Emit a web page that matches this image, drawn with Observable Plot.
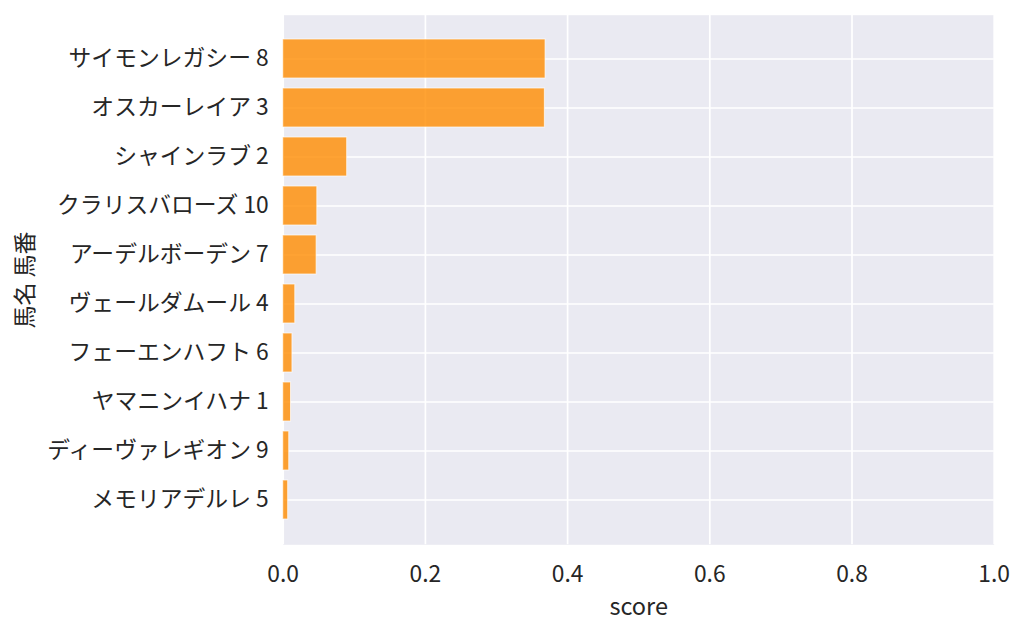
<!DOCTYPE html>
<html>
<head>
<meta charset="utf-8">
<script src="https://cdn.jsdelivr.net/npm/d3@7"></script>
<script src="https://cdn.jsdelivr.net/npm/@observablehq/plot@0.6"></script>
<style>
  html, body { margin: 0; padding: 0; background: #fff; }
  #chart svg { display: block; }
</style>
</head>
<body>
<div id="chart"></div>
<script>
const horseNames = [
  "サイモンレガシー 8",
  "オスカーレイア 3",
  "シャインラブ 2",
  "クラリスバローズ 10",
  "アーデルボーデン 7",
  "ヴェールダムール 4",
  "フェーエンハフト 6",
  "ヤマニンイハナ 1",
  "ディーヴァレギオン 9",
  "メモリアデルレ 5"
];
const scores = [0.369, 0.368, 0.090, 0.048, 0.047, 0.017, 0.013, 0.011, 0.0085, 0.007];
const xTicks = [0, 0.2, 0.4, 0.6, 0.8, 1.0];
const xLabel = "score";
const yLabel = "馬名 馬番";

const data = horseNames.map((name, i) => ({ name, score: scores[i] }));

const font = "'Noto Sans CJK JP', 'Noto Sans', sans-serif";
const textColor = "#262626";

const chart = Plot.plot({
  width: 1024,
  height: 634,
  marginLeft: 282.7,
  marginRight: 30.3,
  marginTop: 14.7,
  marginBottom: 89.7,
  style: { fontFamily: font, fontSize: "22.8px", color: textColor, background: "white" },
  x: { domain: [0, 1], ticks: xTicks },
  y: { type: "band", domain: horseNames, paddingInner: 0.2, paddingOuter: 0.485, align: 0.5 },
  marks: [
    Plot.frame({ fill: "#EAEAF2", stroke: null }),
    Plot.gridX({ ticks: xTicks, stroke: "white", strokeOpacity: 1, strokeWidth: 1.7 }),
    Plot.gridY({ stroke: "white", strokeOpacity: 1, strokeWidth: 1.7 }),
    Plot.barX(data, { x: "score", y: "name", fill: "darkorange", fillOpacity: 0.8, stroke: "white", strokeOpacity: 0.7, strokeWidth: 1 }),
    Plot.axisX({ ticks: xTicks, tickFormat: d3.format(".1f"), tickSize: 0, tickPadding: 21.2, label: null, fill: textColor, fontSize: 22.8 }),
    Plot.axisY({ tickSize: 0, tickPadding: 14.5, label: null, fill: textColor, fontSize: 22.8 }),
    Plot.text([xLabel], { text: d => d, frameAnchor: "bottom", dy: 62.7, lineAnchor: "middle", fontSize: 23.5, fill: textColor }),
    Plot.text([yLabel], { text: d => d, frameAnchor: "left", dx: -257.7, rotate: -90, textAnchor: "middle", lineAnchor: "middle", fontSize: 23, fill: textColor })
  ]
});
document.getElementById("chart").appendChild(chart);
</script>
</body>
</html>
